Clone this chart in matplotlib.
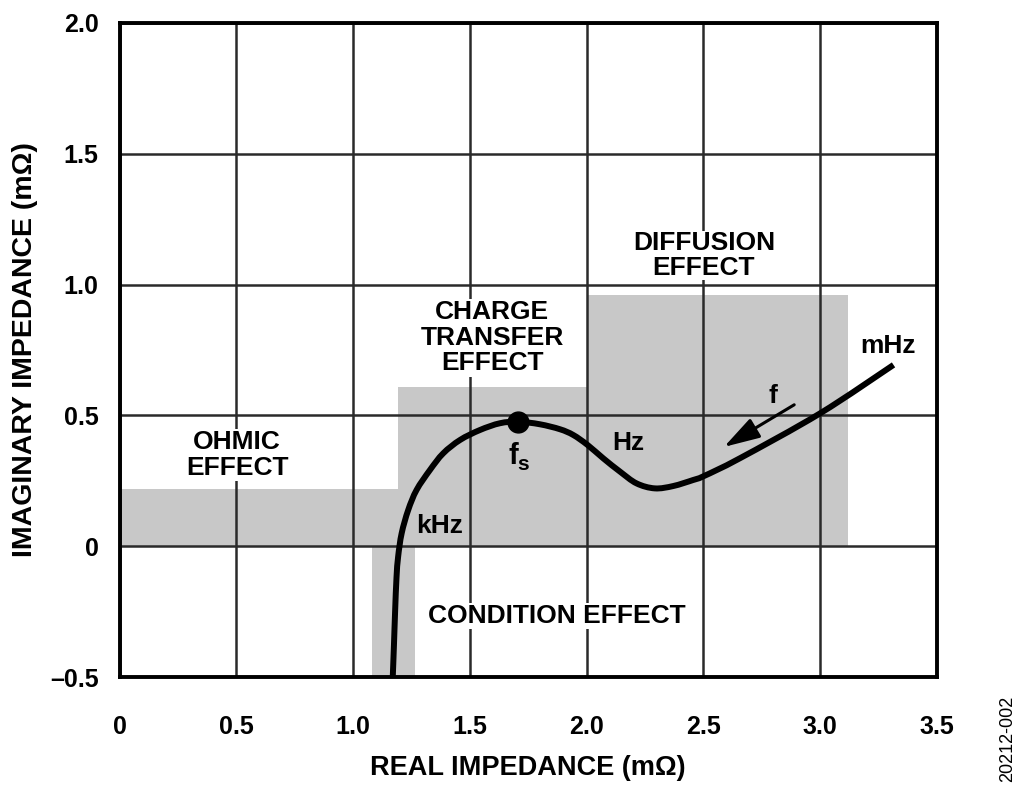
import matplotlib
matplotlib.use("Agg")
import matplotlib.pyplot as plt
from matplotlib.patches import Rectangle, PathPatch
from matplotlib.path import Path

plt.rcParams["font.family"] = ["Liberation Sans", "DejaVu Sans"]
plt.rcParams["font.weight"] = "bold"

# Nyquist curve (real, imaginary) in mOhm
real_z = [1.170, 1.175, 1.180, 1.186, 1.193, 1.208, 1.236, 1.272, 1.329, 1.386,
          1.458, 1.543, 1.629, 1.707, 1.800, 1.886, 1.943, 2.004, 2.071, 2.143,
          2.214, 2.292, 2.371, 2.456, 2.502, 2.656, 3.000, 3.314]
imag_z = [-0.500, -0.380, -0.250, -0.120, -0.040, 0.049, 0.138, 0.215, 0.291, 0.355,
          0.406, 0.444, 0.470, 0.476, 0.466, 0.447, 0.425, 0.387, 0.336, 0.285,
          0.240, 0.221, 0.230, 0.253, 0.268, 0.336, 0.508, 0.693]

# f_s marker
fs_point = (1.707, 0.476)

# shaded regions: (x0, x1, y0, y1)
region_names = ["ohmic", "charge", "diffusion", "condition"]
region_x0 = [0.0, 1.194, 2.0, 1.080]
region_x1 = [1.194, 2.0, 3.120, 1.265]
region_y0 = [0.0, 0.0, 0.0, -0.5]
region_y1 = [0.217, 0.610, 0.960, 0.0]

x_ticks = [0, 0.5, 1.0, 1.5, 2.0, 2.5, 3.0, 3.5]
x_ticklabels = ["0", "0.5", "1.0", "1.5", "2.0", "2.5", "3.0", "3.5"]
y_ticks = [-0.5, 0, 0.5, 1.0, 1.5, 2.0]
y_ticklabels = ["\u20130.5", "0", "0.5", "1.0", "1.5", "2.0"]

GRAY = "#c8c8c8"


def smooth_path(xs, ys):
    # Catmull-Rom through the read points, drawn as cubic Bezier segments
    pts = list(zip(xs, ys))
    verts = [pts[0]]
    codes = [Path.MOVETO]
    for i in range(len(pts) - 1):
        p0 = pts[i - 1] if i > 0 else pts[i]
        p1 = pts[i]
        p2 = pts[i + 1]
        p3 = pts[i + 2] if i + 2 < len(pts) else pts[i + 1]
        c1 = (p1[0] + (p2[0] - p0[0]) / 6, p1[1] + (p2[1] - p0[1]) / 6)
        c2 = (p2[0] - (p3[0] - p1[0]) / 6, p2[1] - (p3[1] - p1[1]) / 6)
        verts += [c1, c2, p2]
        codes += [Path.CURVE4] * 3
    return Path(verts, codes)


fig = plt.figure(figsize=(10.24, 7.92), dpi=100)
ax = fig.add_axes([0.1167, 0.1452, 0.7983, 0.8258])

for x0, x1, y0, y1 in zip(region_x0, region_x1, region_y0, region_y1):
    ax.add_patch(Rectangle((x0, y0), x1 - x0, y1 - y0, facecolor=GRAY,
                           edgecolor="none", zorder=1))

ax.set_xlim(0, 3.5)
ax.set_ylim(-0.5, 2.0)
ax.set_xticks(x_ticks)
ax.set_xticklabels(x_ticklabels)
ax.set_yticks(y_ticks)
ax.set_yticklabels(y_ticklabels)
ax.tick_params(axis="both", length=0, labelsize=18)
ax.tick_params(axis="x", pad=27)
ax.tick_params(axis="y", pad=15)
ax.grid(True, color="#2a2a2a", linewidth=1.8, zorder=2)
ax.set_axisbelow(False)
for sp in ax.spines.values():
    sp.set_linewidth(2.8)
    sp.set_zorder(6)

ax.set_xlabel("REAL IMPEDANCE (m\u03a9)", fontsize=19.5, fontweight="bold", labelpad=12)
ax.set_ylabel("IMAGINARY IMPEDANCE (m\u03a9)", fontsize=20.5, fontweight="bold", labelpad=9)

box = dict(facecolor="white", edgecolor="none", pad=1)
lab_fs = 19
ax.text(0.504, 0.349, "OHMIC\nEFFECT", ha="center", va="center", fontsize=lab_fs,
        fontweight="bold", linespacing=1.08, bbox=box, zorder=3)
ax.text(1.595, 0.796, "CHARGE\nTRANSFER\nEFFECT", ha="center", va="center", fontsize=lab_fs,
        fontweight="bold", linespacing=1.08, bbox=box, zorder=3)
ax.text(2.502, 1.112, "DIFFUSION\nEFFECT", ha="center", va="center", fontsize=lab_fs,
        fontweight="bold", linespacing=1.08, bbox=dict(facecolor="white", edgecolor="none", pad=0),
        zorder=3)
ax.text(1.873, -0.267, "CONDITION EFFECT", ha="center", va="center", fontsize=lab_fs,
        fontweight="bold", bbox=box, zorder=3)

ax.text(1.372, 0.077, "kHz", ha="center", va="center", fontsize=lab_fs, fontweight="bold", zorder=5)
ax.text(2.177, 0.394, "Hz", ha="center", va="center", fontsize=lab_fs, fontweight="bold", zorder=5)
ax.text(3.29, 0.765, "mHz", ha="center", va="center", fontsize=lab_fs, fontweight="bold", zorder=5)
ax.text(2.797, 0.575, "f", ha="center", va="center", fontsize=lab_fs, fontweight="bold", zorder=5)
ax.text(1.688, 0.345, "f", ha="center", va="center", fontsize=21, fontweight="bold", zorder=5)
ax.text(1.728, 0.312, "s", ha="center", va="center", fontsize=15, fontweight="bold", zorder=5)

ax.add_patch(PathPatch(smooth_path(real_z, imag_z), facecolor="none", edgecolor="black",
                       linewidth=4.3, capstyle="butt", joinstyle="round", zorder=4))
ax.plot([fs_point[0]], [fs_point[1]], "o", color="black", markersize=15, zorder=5)

ax.annotate("", xy=(2.578, 0.374), xytext=(2.899, 0.546),
            arrowprops=dict(arrowstyle="-|>,head_length=1.0,head_width=0.3",
                            color="black", lw=2.2, mutation_scale=22),
            zorder=5)

fig.text(0.984, 0.013, "20212-002", rotation=90, ha="center", va="bottom",
         fontsize=13, fontweight="normal")

fig.savefig("out.png", dpi=100, facecolor="white")
